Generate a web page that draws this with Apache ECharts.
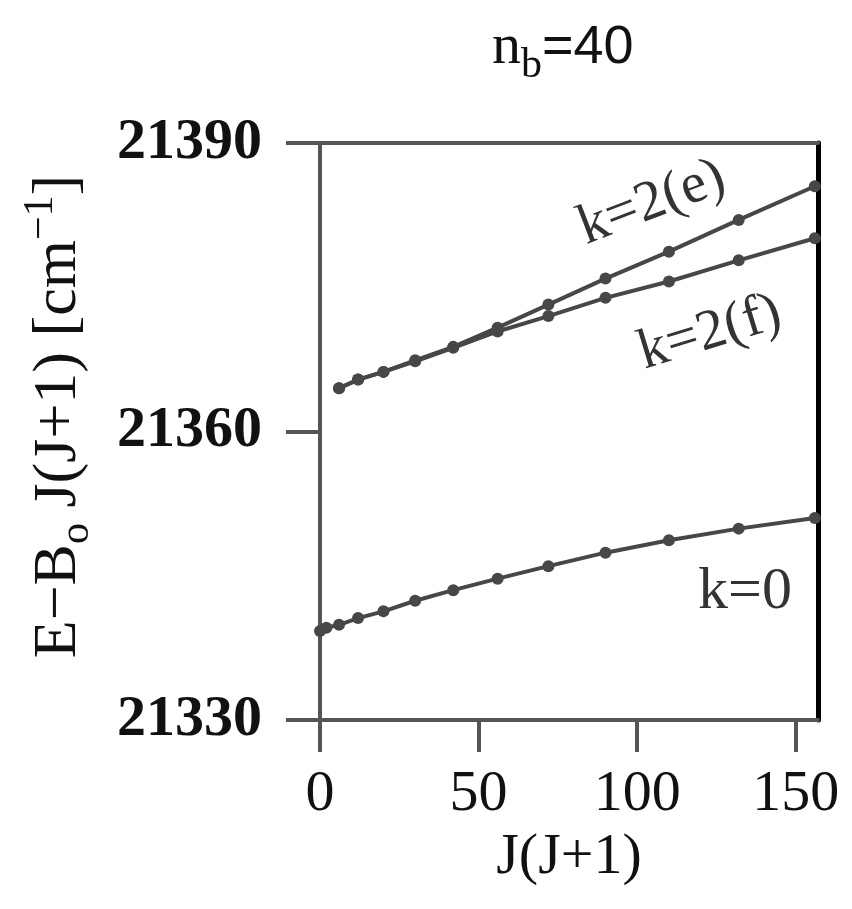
<!DOCTYPE html>
<html>
<head>
<meta charset="utf-8">
<script src="https://cdn.jsdelivr.net/npm/echarts@6/dist/echarts.min.js"></script>
<style>
html, body { margin: 0; padding: 0; background: #fff; }
#chart { width: 852px; height: 909px; }
</style>
</head>
<body>
<div id="chart"></div>
<script>
// J(J+1) values for k=0 (J from 0) and k=2 (J from 2)
var jjK0 = [0, 2, 6, 12, 20, 30, 42, 56, 72, 90, 110, 132, 156];
var eK0 = [21339.25, 21339.6, 21339.9, 21340.6, 21341.3, 21342.4, 21343.5, 21344.7, 21346.0, 21347.4, 21348.7, 21349.9, 21351.0];

var jjK2 = [6, 12, 20, 30, 42, 56, 72, 90, 110, 132, 156];
var eK2e = [21364.5, 21365.4, 21366.2, 21367.4, 21368.8, 21370.8, 21373.2, 21375.9, 21378.7, 21382.0, 21385.5];
var eK2f = [21364.5, 21365.4, 21366.2, 21367.3, 21368.7, 21370.4, 21372.0, 21373.9, 21375.6, 21377.8, 21380.1];

var xTicks = [0, 50, 100, 150];
var yTicks = [21330, 21360, 21390];

var SERIF = "'Liberation Serif', 'Times New Roman', serif";
var GREY = '#474747';
var AXIS = '#555';

function pairs(xs, ys) {
	var out = [];
	for (var i = 0; i < xs.length; i++) {
		out.push([xs[i], ys[i]]);
	}
	return out;
}

function lineSeries(name, xs, ys) {
	return {
		name : name,
		type : 'line',
		data : pairs(xs, ys),
		symbol : 'circle',
		symbolSize : 12,
		showSymbol : true,
		lineStyle : { color : GREY, width : 4 },
		itemStyle : { color : GREY },
		z : 5
	};
}

var chart = echarts.init(document.getElementById('chart'));

chart.setOption({
	animation : false,
	title : {
		text : '{n|n}{b|b}{eq|=40}',
		left : 487,
		top : 4,
		textStyle : {
			rich : {
				n : { fontFamily : SERIF, fontSize : 58, fontWeight : 'normal', color : '#111' },
				b : { fontFamily : SERIF, fontSize : 42, fontWeight : 'normal', color : '#111', verticalAlign : 'top', padding : [ 36, 0, 0, 0 ] },
				eq : { fontFamily : "'Liberation Sans', Arial, sans-serif", fontSize : 54, fontWeight : 'normal', color : '#111' }
			}
		}
	},
	grid : {
		left : 320,
		right : 34,
		top : 143,
		bottom : 189
	},
	xAxis : [ {
		type : 'value',
		min : 0,
		max : 157,
		interval : 50,
		splitLine : { show : false },
		axisLine : { onZero : false, lineStyle : { color : AXIS, width : 4 } },
		axisTick : {
			show : true,
			length : 32,
			customValues : xTicks,
			lineStyle : { color : AXIS, width : 4 }
		},
		axisLabel : {
			customValues : xTicks,
			margin : 46,
			fontFamily : SERIF,
			fontSize : 58,
			color : '#111'
		},
		name : 'J(J+1)',
		nameLocation : 'middle',
		nameGap : 106,
		nameTextStyle : { fontFamily : SERIF, fontSize : 58, color : '#111' }
	}, {
		type : 'value',
		position : 'top',
		min : 0,
		max : 157,
		axisLine : { show : true, onZero : false, lineStyle : { color : AXIS, width : 4 } },
		axisTick : { show : false },
		axisLabel : { show : false },
		splitLine : { show : false }
	} ],
	yAxis : [ {
		type : 'value',
		min : 21330,
		max : 21390,
		interval : 30,
		splitLine : { show : false },
		axisLine : { show : true, onZero : false, lineStyle : { color : AXIS, width : 4 } },
		axisTick : {
			show : true,
			length : 34,
			lineStyle : { color : AXIS, width : 4 }
		},
		axisLabel : {
			margin : 58,
			fontFamily : SERIF,
			fontSize : 58,
			fontWeight : 'bold',
			color : '#111',
			formatter : function(v) { return String(v); }
		},
		name : '{t|E\u2212B}{s|o}{t| J(J+1) [cm}{p|\u22121}{t|]}',
		nameLocation : 'middle',
		nameRotate : 90,
		nameGap : 222,
		nameTextStyle : {
			padding : [ 0, 0, 0, 30 ],
			rich : {
				t : { fontFamily : SERIF, fontSize : 62, color : '#111' },
				s : { fontFamily : SERIF, fontSize : 42, color : '#111', verticalAlign : 'top', padding : [ 36, 0, 0, 0 ] },
				p : { fontFamily : SERIF, fontSize : 42, color : '#111', verticalAlign : 'bottom', padding : [ 0, 0, 36, 0 ] }
			}
		}
	}, {
		type : 'value',
		position : 'right',
		min : 21330,
		max : 21390,
		axisLine : { show : true, onZero : false, lineStyle : { color : '#000', width : 5 } },
		axisTick : { show : false },
		axisLabel : { show : false },
		splitLine : { show : false }
	} ],
	series : [
		lineSeries('k=0', jjK0, eK0),
		lineSeries('k=2(e)', jjK2, eK2e),
		lineSeries('k=2(f)', jjK2, eK2f)
	],
	graphic : [ {
		type : 'text',
		x : 652, y : 203,
		rotation : 21 * Math.PI / 180,
		style : { text : 'k=2(e)', fontFamily : SERIF, fontSize : 57, fill : '#333', align : 'center', verticalAlign : 'middle' }
	}, {
		type : 'text',
		x : 710, y : 333,
		rotation : 17 * Math.PI / 180,
		style : { text : 'k=2(f)', fontFamily : SERIF, fontSize : 57, fill : '#333', align : 'center', verticalAlign : 'middle' }
	}, {
		type : 'text',
		x : 745, y : 592,
		style : { text : 'k=0', fontFamily : SERIF, fontSize : 60, fill : '#333', align : 'center', verticalAlign : 'middle' }
	} ]
});
</script>
</body>
</html>
